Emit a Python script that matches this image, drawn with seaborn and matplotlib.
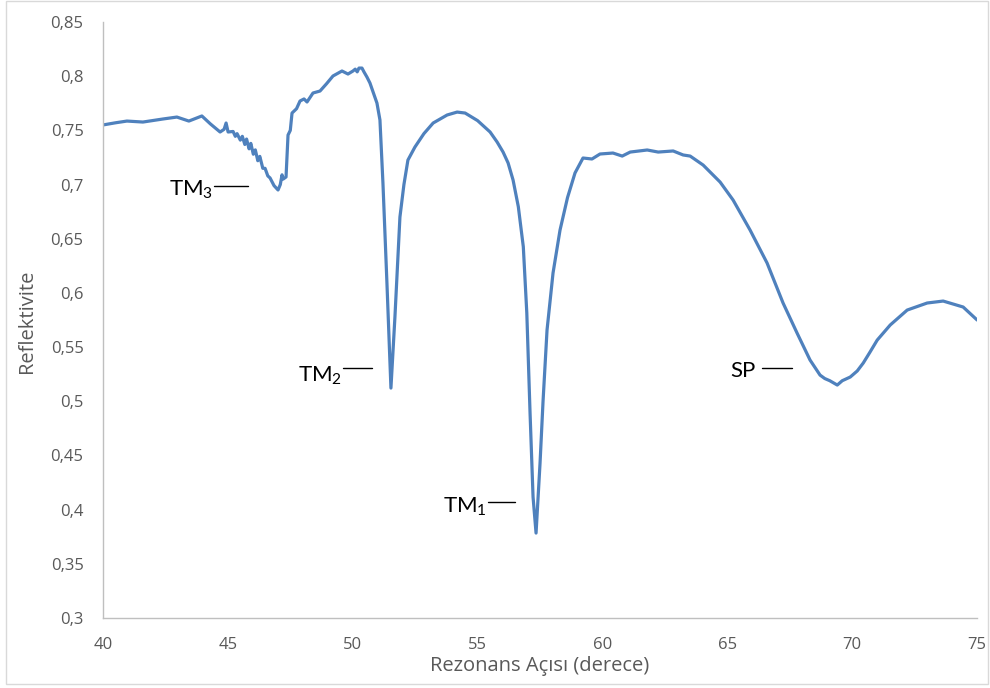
import matplotlib
matplotlib.use("Agg")
import matplotlib.pyplot as plt
import matplotlib.patches as mpatches
from matplotlib.ticker import FuncFormatter, MultipleLocator
import seaborn as sns
import pandas as pd

# ---- data ----
angle = [40.00, 40.5, 40.96, 41.6, 42.4, 42.96, 43.44, 43.96, 44.3, 44.69, 44.85, 44.93,
         45.01, 45.21, 45.30, 45.37, 45.50, 45.58, 45.68, 45.75, 45.85, 45.92, 46.02, 46.10,
         46.20, 46.28, 46.40, 46.49, 46.60, 46.69, 46.85, 47.01, 47.10, 47.17, 47.21, 47.33,
         47.38, 47.41, 47.50, 47.57, 47.75, 47.89, 48.05, 48.17, 48.41, 48.69, 48.95, 49.21,
         49.57, 49.81, 50.01, 50.10, 50.18, 50.25, 50.37, 50.45, 50.57, 50.69, 50.85, 50.97,
         51.09, 51.21, 51.37, 51.53, 51.69, 51.89, 52.05, 52.21, 52.49, 52.85, 53.22, 53.78,
         54.18, 54.50, 55.0, 55.50, 55.78, 56.02, 56.22, 56.42, 56.63, 56.83, 56.97, 57.10,
         57.22, 57.34, 57.50, 57.62, 57.78, 58.02, 58.30, 58.60, 58.90, 59.22, 59.58, 59.90,
         60.42, 60.79, 61.11, 61.79, 62.23, 62.83, 63.23, 63.51, 64.03, 64.71, 65.23, 65.91,
         66.59, 67.23, 67.79, 68.31, 68.71, 68.90, 69.10, 69.40, 69.60, 69.92, 70.20, 70.44,
         70.70, 71.00, 71.52, 72.20, 73.00, 73.64, 74.44, 75.0]
reflect = [0.755, 0.757, 0.7586, 0.7577, 0.7605, 0.7623, 0.7586, 0.7633, 0.756, 0.7485, 0.751, 0.7568,
           0.7485, 0.7490, 0.7445, 0.7470, 0.7410, 0.7445, 0.7370, 0.7420, 0.7330, 0.7380, 0.7280, 0.7320,
           0.7220, 0.7260, 0.7150, 0.7150, 0.7080, 0.7061, 0.6990, 0.6950, 0.7000, 0.7090, 0.7050, 0.7070,
           0.7300, 0.7457, 0.7500, 0.7660, 0.7700, 0.7771, 0.7790, 0.7762, 0.7845, 0.7863, 0.7930, 0.8002,
           0.8048, 0.8020, 0.8048, 0.8065, 0.8040, 0.8075, 0.8075, 0.8040, 0.7992, 0.7937, 0.7830, 0.7752,
           0.7596, 0.7014, 0.6091, 0.5122, 0.5778, 0.6700, 0.7000, 0.7226, 0.7346, 0.7470, 0.7568, 0.7642,
           0.7669, 0.7660, 0.7590, 0.7485, 0.7393, 0.7300, 0.7200, 0.7042, 0.6796, 0.6426, 0.5815, 0.4892,
           0.4117, 0.3784, 0.443, 0.500, 0.5658, 0.6184, 0.658, 0.688, 0.7107, 0.7245, 0.7236, 0.7282,
           0.7291, 0.7263, 0.7300, 0.7319, 0.7300, 0.7310, 0.7273, 0.7263, 0.7180, 0.7023, 0.6857, 0.6580,
           0.6276, 0.5907, 0.5630, 0.5381, 0.5242, 0.521, 0.519, 0.5150, 0.519, 0.5224, 0.528, 0.5353,
           0.545, 0.5565, 0.5704, 0.5842, 0.5907, 0.5925, 0.5870, 0.575]

peak_names = ["TM", "TM", "TM", "SP"]
peak_subs = ["3", "2", "1", ""]
x_label = "Rezonans Açısı (derece)"
y_label = "Reflektivite"

df = pd.DataFrame({"angle": angle, "R": reflect})

sns.set_theme(style="white")
plt.rcParams["font.family"] = ["Open Sans", "DejaVu Sans"]
plt.rcParams["mathtext.default"] = "regular"

fig = plt.figure(figsize=(9.9, 6.88), dpi=100)
ax = fig.add_axes([0.104, 0.1017, 0.883, 0.8663])

sns.lineplot(data=df, x="angle", y="R", ax=ax, color="#4F81BD", linewidth=2.3,
             estimator=None, sort=False)

ax.set_xlim(40, 75)
ax.set_ylim(0.3, 0.85)
ax.xaxis.set_major_locator(MultipleLocator(5))
ax.yaxis.set_major_locator(MultipleLocator(0.05))
fmt = FuncFormatter(lambda v, p: f"{v:.2f}".rstrip("0").rstrip(".").replace(".", ","))
ax.yaxis.set_major_formatter(fmt)
ax.xaxis.set_major_formatter(FuncFormatter(lambda v, p: f"{v:g}"))
ax.tick_params(axis="both", length=0, labelsize=12, colors="#595959", pad=14)
ax.tick_params(axis="x", pad=14)

for s in ["top", "right"]:
    ax.spines[s].set_visible(False)
for s in ["left", "bottom"]:
    ax.spines[s].set_color("#BFBFBF")
    ax.spines[s].set_linewidth(1.0)

ax.set_xlabel(x_label, fontsize=14.5, color="#595959", va="center")
ax.xaxis.set_label_coords(0.5, -0.080)
ax.set_ylabel(y_label, fontsize=14.5, color="#595959", va="center")
ax.yaxis.set_label_coords(-0.087, 0.497)

# annotations: (text right x, baseline y, line x0, line x1, line y)
ann = [
    (44.40, 0.6894, 44.45, 45.81, 0.6987),
    (49.57, 0.5178, 49.62, 50.77, 0.5307),
    (55.38, 0.3970, 55.42, 56.50, 0.4070),
    (66.11, 0.5224, 66.39, 67.59, 0.5307),
]
for (name, sub, (tx, ty, lx0, lx1, ly)) in zip(peak_names, peak_subs, ann):
    label = name + (f"$_{{{sub}}}$" if sub else "")
    ax.text(tx, ty, label, ha="right", va="baseline", fontsize=16, color="black",
            family=["Lato", "DejaVu Sans"])
    ax.plot([lx0, lx1], [ly, ly], color="black", linewidth=1.0)

# outer chart border
fig.patches.append(mpatches.Rectangle((6 / 990, 4 / 688), 982 / 990, 683 / 688,
                                      transform=fig.transFigure, fill=False,
                                      edgecolor="#D9D9D9", linewidth=1.0))

fig.savefig("out.png", dpi=100)
